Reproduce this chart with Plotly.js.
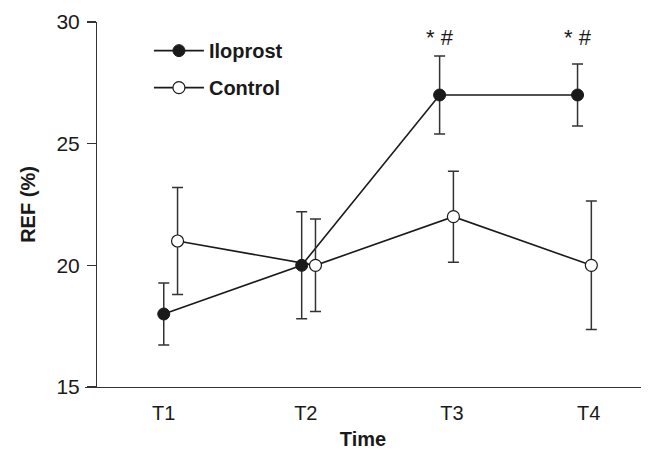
<!DOCTYPE html>
<html>
<head>
<meta charset="utf-8">
<script src="https://cdn.plot.ly/plotly-3.0.1.min.js"></script>
<style>html,body{margin:0;padding:0;background:#fff;}#chart{width:648px;height:454px;}</style>
</head>
<body>
<div id="chart"></div>
<script>
var timeLabels = ['T1', 'T2', 'T3', 'T4'];
var timeIndex = [1, 2, 3, 4];
var labelPos = [0.95, 1.98, 3.04, 4.03];
var groupOffset = 0.05;

var iloprostMean = [18, 20, 27, 27];
var iloprostSD = [1.27, 2.2, 1.6, 1.27];
var controlMean = [21, 20, 22, 20];
var controlSD = [2.2, 1.9, 1.87, 2.64];

var sigLabel = '* #';
var sigTimes = [3, 4];
var sigLevel = 29.35;

var ink = '#1a1a1a';
var font = 'Liberation Sans, Arial, Helvetica, sans-serif';

var ilo = {
  name: 'Iloprost', legendgroup: 'a',
  x: timeIndex.map(function (t) { return t - groupOffset; }),
  y: iloprostMean,
  mode: 'lines+markers',
  line: {color: ink, width: 1.6},
  marker: {color: ink, size: 12, line: {color: ink, width: 1}},
  error_y: {type: 'data', array: iloprostSD, visible: true, color: '#333', thickness: 1.5, width: 5.5}
};
var ctl = {
  name: 'Control', legendgroup: 'b',
  x: timeIndex.map(function (t) { return t + groupOffset; }),
  y: controlMean,
  mode: 'lines+markers',
  line: {color: ink, width: 1.6},
  marker: {color: '#fff', size: 12, line: {color: ink, width: 1.2}},
  error_y: {type: 'data', array: controlSD, visible: true, color: '#333', thickness: 1.5, width: 5.5}
};

var annotations = sigTimes.map(function (t) {
  return {
    x: t - groupOffset, y: sigLevel, xref: 'x', yref: 'y',
    text: sigLabel, showarrow: false,
    font: {family: font, size: 22, color: ink}
  };
});

var layout = {
  width: 648, height: 454,
  margin: {l: 85, r: 7, t: 22, b: 67},
  paper_bgcolor: '#fff', plot_bgcolor: '#fff',
  showlegend: true,
  legend: {x: 0.115, y: 0.975, xanchor: 'left', yanchor: 'top',
           font: {family: font, size: 20, color: ink, weight: 'bold'},
           bgcolor: 'rgba(0,0,0,0)', itemwidth: 50, tracegroupgap: 8},
  xaxis: {
    range: [0.379, 4.41],
    tickvals: labelPos, ticktext: timeLabels,
    ticks: '', showline: true, linecolor: '#333', linewidth: 1.3,
    showgrid: false, zeroline: false,
    tickfont: {family: font, size: 20, color: ink},
    ticklabelstandoff: 8,
    title: {text: 'Time', font: {family: font, size: 20, color: ink, weight: 'bold'}, standoff: 8}
  },
  yaxis: {
    range: [15, 30],
    tickvals: [15, 20, 25, 30],
    anchor: 'free', position: 0.0198,
    ticks: 'outside', ticklen: 9, tickwidth: 1.3, tickcolor: '#333',
    showline: true, linecolor: '#333', linewidth: 1.3,
    showgrid: false, zeroline: false,
    tickfont: {family: font, size: 21, color: ink},
    ticklabelstandoff: 3,
    title: {text: 'REF (%)', font: {family: font, size: 20, color: ink, weight: 'bold'}, standoff: 14}
  },
  annotations: annotations
};

Plotly.newPlot('chart', [ilo, ctl], layout, {displayModeBar: false, staticPlot: true});
</script>
</body>
</html>
